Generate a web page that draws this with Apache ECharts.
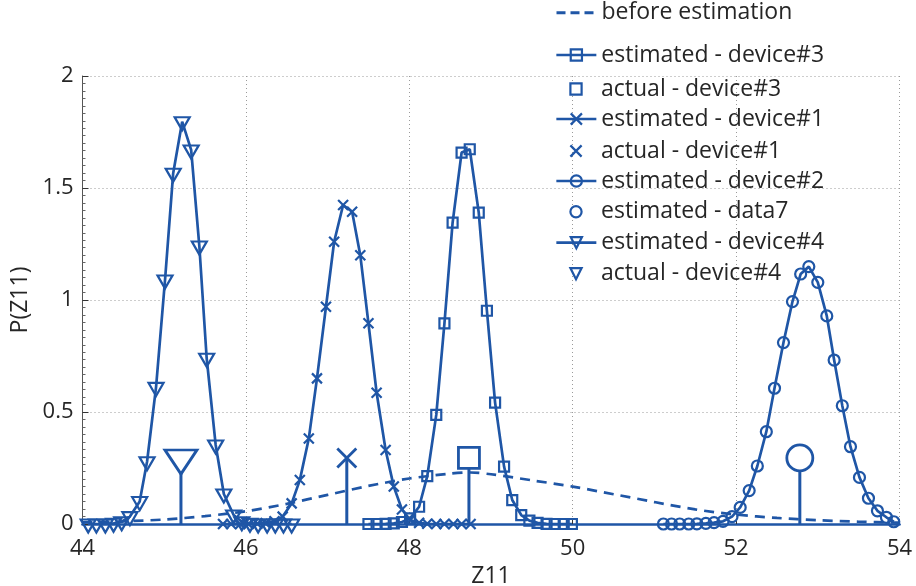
<!DOCTYPE html>
<html>
<head>
<meta charset="utf-8">
<script src="https://cdn.jsdelivr.net/npm/echarts@6/dist/echarts.min.js"></script>
<style>
html,body{margin:0;padding:0;background:#fff;}
#chart{width:916px;height:586px;}
</style>
</head>
<body>
<div id="chart"></div>
<script>
// ---- data ----
var legendNames = ['before estimation', 'estimated - device#3', 'actual - device#3',
  'estimated - device#1', 'actual - device#1', 'estimated - device#2',
  'estimated - data7', 'estimated - device#4', 'actual - device#4'];

var xTicks = [44, 46, 48, 50, 52, 54];
var yTicks = [0, 0.5, 1, 1.5, 2];

var beforeX = [44, 44.5, 45, 45.5, 46, 46.5, 47, 47.5, 48, 48.5, 48.75, 49, 49.5, 50, 50.5, 51, 51.5, 52, 52.5, 53, 53.5, 54];
var beforeY = [0.007, 0.012, 0.02, 0.035, 0.057, 0.09, 0.13, 0.17, 0.203, 0.225, 0.23, 0.222, 0.195, 0.167, 0.133, 0.098, 0.065, 0.042, 0.027, 0.017, 0.01, 0.006];

var dev3X = [47.50, 47.60, 47.71, 47.81, 47.91, 48.01, 48.12, 48.22, 48.33, 48.43, 48.53, 48.64, 48.74, 48.85, 48.95, 49.05, 49.16, 49.26, 49.37, 49.47, 49.57, 49.68, 49.78, 49.89, 49.99];
var dev3Y = [0, 0, 0.001, 0.003, 0.009, 0.025, 0.077, 0.214, 0.487, 0.896, 1.345, 1.658, 1.673, 1.39, 0.952, 0.542, 0.256, 0.107, 0.04, 0.015, 0.005, 0.001, 0, 0, 0];

var dev1X = [45.72, 45.82, 45.93, 46.03, 46.14, 46.24, 46.35, 46.45, 46.56, 46.66, 46.77, 46.87, 46.98, 47.08, 47.19, 47.30, 47.40, 47.50, 47.60, 47.71, 47.81, 47.91, 48.01, 48.12, 48.22, 48.33, 48.43, 48.54, 48.64, 48.75];
var dev1Y = [0, 0, 0, 0, 0.001, 0.004, 0.012, 0.033, 0.092, 0.196, 0.382, 0.65, 0.97, 1.26, 1.424, 1.394, 1.20, 0.896, 0.586, 0.33, 0.167, 0.065, 0.018, 0.005, 0.001, 0, 0, 0, 0, 0];

var dev2X = [51.11, 51.21, 51.31, 51.42, 51.52, 51.63, 51.73, 51.84, 51.95, 52.05, 52.16, 52.26, 52.37, 52.47, 52.58, 52.69, 52.79, 52.89, 53.00, 53.11, 53.20, 53.30, 53.40, 53.51, 53.62, 53.73, 53.84, 53.93];
var dev2Y = [0, 0, 0, 0, 0.001, 0.003, 0.006, 0.012, 0.033, 0.074, 0.149, 0.259, 0.412, 0.606, 0.81, 0.993, 1.116, 1.149, 1.079, 0.929, 0.732, 0.528, 0.345, 0.208, 0.115, 0.059, 0.03, 0.01];

var dev4X = [44.07, 44.17, 44.28, 44.38, 44.48, 44.58, 44.70, 44.79, 44.90, 45.01, 45.11, 45.22, 45.33, 45.43, 45.52, 45.63, 45.73, 45.85, 45.95, 46.05, 46.15, 46.26, 46.36, 46.46, 46.56];
var dev4Y = [0, 0, 0, 0.003, 0.01, 0.033, 0.10, 0.278, 0.61, 1.089, 1.566, 1.796, 1.67, 1.241, 0.74, 0.353, 0.134, 0.04, 0.01, 0.003, 0, 0, 0, 0, 0];

// actual values (stems): device#3, device#1, device#2 (data7), device#4
var actualX = [48.73, 47.235, 52.78, 45.205];
var actualY = [0.295, 0.295, 0.295, 0.295];

// ---- styling ----
var BLUE = '#1f56a6';
var TXT = '#262626';
var FONT = 'Open Sans';
var XPATH = 'path://M0,0L10,10M10,0L0,10';

function zip(xs, ys) { return xs.map(function (x, i) { return [x, ys[i]]; }); }
function stem(i) {
  return [{ value: [actualX[i], 0], symbol: 'none' }, { value: [actualX[i], actualY[i]] }];
}
function estSeries(name, xs, ys, symbol, size, extra) {
  var s = {
    name: name, type: 'line', data: zip(xs, ys), symbol: symbol, symbolSize: size,
    lineStyle: { color: BLUE, width: 2.7 },
    itemStyle: { color: 'rgba(0,0,0,0)', borderColor: BLUE, borderWidth: 2.2 },
    z: 3
  };
  for (var k in extra) s[k] = extra[k];
  return s;
}
function actSeries(name, i, symbol, size, extra) {
  var s = {
    name: name, type: 'line', data: stem(i), symbol: symbol, symbolSize: size,
    lineStyle: { color: BLUE, width: 3 },
    itemStyle: { color: '#fff', borderColor: BLUE, borderWidth: 2.8 },
    z: 4
  };
  for (var k in extra) s[k] = extra[k];
  return s;
}

var series = [
  { name: legendNames[0], type: 'line', data: zip(beforeX, beforeY), symbol: 'none', smooth: 0.3,
    lineStyle: { color: BLUE, width: 2.7, type: [10, 7] }, itemStyle: { color: BLUE }, z: 2 },
  estSeries(legendNames[1], dev3X, dev3Y, 'rect', 10),
  actSeries(legendNames[2], 0, 'rect', 21),
  estSeries(legendNames[3], dev1X, dev1Y, XPATH, 10),
  actSeries(legendNames[4], 1, XPATH, 19),
  estSeries(legendNames[5], dev2X, dev2Y, 'circle', 11),
  actSeries(legendNames[6], 2, 'circle', 26),
  estSeries(legendNames[7], dev4X, dev4Y, 'triangle', [15, 13], { symbolRotate: 180, symbolOffset: [0, 2] }),
  actSeries(legendNames[8], 3, 'triangle', [32, 24], { symbolRotate: 180, symbolOffset: [0, 4] })
];

var legendTops = [0.7, 43, 77, 107, 139, 169, 199.7, 230.7, 261.7];
var legends = legendNames.map(function (n, i) {
  var item = { name: n };
  if (i === 0) {
    item.itemStyle = { color: 'rgba(0,0,0,0)', borderColor: 'rgba(0,0,0,0)' };
    item.lineStyle = { width: 3, type: [9, 5] };
  } else {
    item.itemStyle = { borderWidth: 2.2 };
    item.lineStyle = { width: 2.7 };
  }
  if (i === 2 || i === 4 || i === 6 || i === 8) item.lineStyle = { color: 'rgba(0,0,0,0)' };
  return {
    data: [item], left: 555, top: legendTops[i], padding: 0, orient: 'horizontal',
    itemWidth: 40, itemHeight: 14, selectedMode: false,
    textStyle: { fontFamily: FONT, fontSize: 23, color: TXT, lineHeight: 24 }
  };
});

var chart = echarts.init(document.getElementById('chart'), null, { renderer: 'canvas' });
chart.setOption({
  animation: false,
  backgroundColor: '#fff',
  grid: { left: 82.5, right: 16.5, top: 76, bottom: 62, containLabel: false, outerBoundsMode: 'none' },
  legend: legends,
  xAxis: {
    type: 'value', min: xTicks[0], max: xTicks[xTicks.length - 1], interval: xTicks[1] - xTicks[0],
    name: 'Z11', nameLocation: 'middle', nameGap: 34,
    nameTextStyle: { fontFamily: FONT, fontSize: 23, color: TXT },
    axisLine: { show: true, onZero: false, lineStyle: { color: BLUE, width: 2.7 } },
    axisTick: { show: true, inside: true, length: 5, lineStyle: { color: '#333' } },
    axisLabel: { fontFamily: FONT, fontSize: 22, color: TXT, margin: 14 },
    splitLine: { show: true, lineStyle: { color: '#9a9a9a', type: [1, 3], width: 1 } }
  },
  yAxis: {
    type: 'value', min: yTicks[0], max: yTicks[yTicks.length - 1], interval: yTicks[1] - yTicks[0],
    name: 'P(Z11)', nameLocation: 'middle', nameGap: 43,
    nameTextStyle: { fontFamily: FONT, fontSize: 23, color: TXT },
    axisLine: { show: true, lineStyle: { color: '#555', width: 1 } },
    axisTick: { show: true, inside: true, length: 6, lineStyle: { color: '#333' } },
    minorTick: { show: true, splitNumber: 15, length: 3, lineStyle: { color: '#666' } },
    axisLabel: { fontFamily: FONT, fontSize: 22, color: TXT, margin: 9 },
    splitLine: { show: true, lineStyle: { color: '#9a9a9a', type: [1, 3], width: 1 } }
  },
  series: series
});
</script>
</body>
</html>
